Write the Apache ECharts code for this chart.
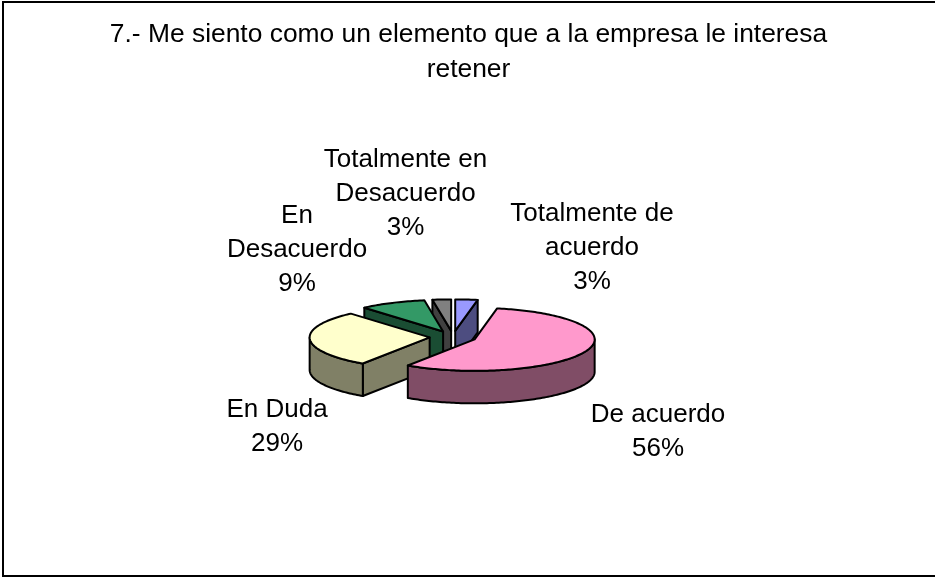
<!DOCTYPE html>
<html><head><meta charset="utf-8">
<style>html,body{margin:0;padding:0;background:#fff}#c{width:935px;height:577px}</style>
<script src="https://cdn.jsdelivr.net/npm/echarts@6/dist/echarts.min.js"></script>
</head><body><div id="c"></div>
<script>
var titleLines = ['7.- Me siento como un elemento que a la empresa le interesa', 'retener'];
var categories = ['Totalmente de acuerdo', 'De acuerdo', 'En Duda', 'En Desacuerdo', 'Totalmente en Desacuerdo'];
var percents = [3, 56.4, 29.2, 8.9, 2.5];
var labelLines = [['Totalmente de','acuerdo'],['De acuerdo'],['En Duda'],['En','Desacuerdo'],['Totalmente en','Desacuerdo']];
var topColors = ['#9999FF', '#FF99CC', '#FFFFCC', '#339966', '#808080'];
var sideColors = ['#4D4D80', '#804D66', '#808066', '#1A4D33', '#404040'];
// layout only
var labelCentres = [[592,248],[658,432],[277,427],[297,250],[405.5,193.5]];
var FONT = '"Liberation Sans", Arial, sans-serif';
var cx = 453, cy = 337, rx = 120, ry = 31.5, depth = 32.5, explode = 23.4;

var total = percents.reduce(function (a, b) { return a + b; }, 0);
var starts = [], acc = 0;
percents.forEach(function (v) { starts.push(acc); acc += v; });
var toAng = function (p) { return p / total * Math.PI * 2; };

function renderSlice(params, api) {
  var i = params.dataIndex;
  var v = api.value(0);
  var a0 = toAng(starts[i]), a1 = toAng(starts[i] + v), mid = (a0 + a1) / 2;
  var ax = cx + explode * Math.sin(mid), ay = cy - explode * Math.cos(mid) * ry / rx;
  var pt = function (a, d) { return [ax + rx * Math.sin(a), ay - ry * Math.cos(a) + (d || 0)]; };
  var arc = function (s, e, d) {
    var out = [], n = Math.max(2, Math.ceil(Math.abs(e - s) / 0.02));
    for (var k = 0; k <= n; k++) out.push(pt(s + (e - s) * k / n, d));
    return out;
  };
  var sty = function (c) { return { fill: c, stroke: '#000', lineWidth: 2, lineJoin: 'round' }; };
  var kids = [];
  var face = function (points, c) { kids.push({ type: 'polygon', shape: { points: points }, style: sty(c) }); };
  var apexLow = [ax, ay + depth];
  if (Math.sin(a0) < -1e-6) face([[ax, ay], pt(a0), pt(a0, depth), apexLow], sideColors[i]);
  if (Math.sin(a1) > 1e-6) face([[ax, ay], pt(a1), pt(a1, depth), apexLow], sideColors[i]);
  var s = Math.max(a0, Math.PI / 2), e = Math.min(a1, Math.PI * 1.5);
  if (e > s) face(arc(s, e, 0).concat(arc(e, s, depth)), sideColors[i]);
  face([[ax, ay]].concat(arc(a0, a1, 0)), topColors[i]);
  return { type: 'group', children: kids };
}

var drawOrder = [0, 4, 3, 2, 1];
var graphics = [{ type: 'rect', silent: true, z: 0, shape: { x: 3, y: 2, width: 940, height: 574 }, style: { fill: '#fff', stroke: '#000', lineWidth: 2 } }];
titleLines.forEach(function (t, i) {
  graphics.push({ type: 'text', z: 5, x: 468.5, y: 35 + i * 34.5, style: { text: t, font: '26.4px ' + FONT, fill: '#000', textAlign: 'center', textVerticalAlign: 'middle' } });
});
categories.forEach(function (c, i) {
  var lines = labelLines[i].concat([Math.round(percents[i]) + '%']);
  var top = labelCentres[i][1] - (lines.length - 1) * 17;
  lines.forEach(function (t, k) {
    graphics.push({ type: 'text', z: 5, x: labelCentres[i][0], y: top + k * 34, style: { text: t, font: '26px ' + FONT, fill: '#000', textAlign: 'center', textVerticalAlign: 'middle' } });
  });
});

var chart = echarts.init(document.getElementById('c'), null, { renderer: 'canvas' });
chart.setOption({
  animation: false,
  backgroundColor: '#fff',
  graphic: graphics,
  series: drawOrder.map(function (idx, o) {
    return {
      type: 'custom', coordinateSystem: 'none', silent: true, z: 2 + o,
      name: categories[idx],
      renderItem: function (params, api) { return renderSlice({ dataIndex: idx }, api); },
      data: [[percents[idx]]]
    };
  })
});
</script></body></html>
